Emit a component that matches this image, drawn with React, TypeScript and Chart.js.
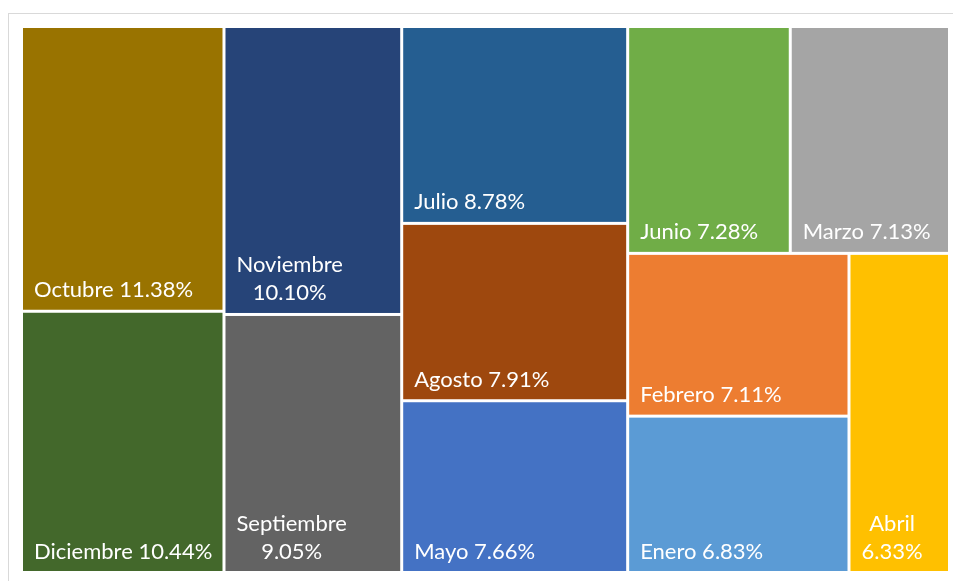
import React, { useEffect, useRef } from "react";
import { Chart, registerables } from "chart.js";

Chart.register(...registerables);

// Data (percent of total), sorted as in the treemap
const categories = [
  "Octubre", "Diciembre", "Noviembre", "Septiembre", "Julio", "Agosto",
  "Mayo", "Junio", "Marzo", "Febrero", "Enero", "Abril",
];
const values = [11.38, 10.44, 10.1, 9.05, 8.78, 7.91, 7.66, 7.28, 7.13, 7.11, 6.83, 6.33];
const colors = [
  "#997300", "#43682B", "#264478", "#636363", "#255E91", "#9E480E",
  "#4472C4", "#70AD47", "#A5A5A5", "#ED7D31", "#5B9BD5", "#FFC000",
];

const LAYOUT_ASPECT = 1.78; // width/height of the layout domain

type Rect = { i: number; x0: number; y0: number; x1: number; y1: number };

function squarify(vals: number[], W: number, H: number): Rect[] {
  const total = vals.reduce((a, b) => a + b, 0);
  const areas = vals.map((v) => (v / total) * W * H);
  const out: Rect[] = [];
  let x = 0, y = 0, w = W, h = H;
  let idx = 0;
  const worst = (row: number[], side: number) => {
    const s = row.reduce((a, b) => a + areas[b], 0);
    const mx = Math.max(...row.map((r) => areas[r]));
    const mn = Math.min(...row.map((r) => areas[r]));
    return Math.max((side * side * mx) / (s * s), (s * s) / (side * side * mn));
  };
  while (idx < areas.length) {
    const side = Math.min(w, h);
    const row: number[] = [idx];
    idx++;
    while (idx < areas.length && worst([...row, idx], side) <= worst(row, side)) {
      row.push(idx);
      idx++;
    }
    const s = row.reduce((a, b) => a + areas[b], 0);
    if (w >= h) {
      const cw = s / h;
      let cy = y;
      for (const r of row) {
        const rh = areas[r] / cw;
        out.push({ i: r, x0: x, y0: cy, x1: x + cw, y1: cy + rh });
        cy += rh;
      }
      x += cw;
      w -= cw;
    } else {
      const rh = s / w;
      let cx = x;
      for (const r of row) {
        const rw = areas[r] / rh;
        out.push({ i: r, x0: cx, y0: y, x1: cx + rw, y1: y + rh });
        cx += rw;
      }
      y += rh;
      h -= rh;
    }
  }
  return out;
}

export default function App() {
  const ref = useRef<HTMLCanvasElement | null>(null);

  useEffect(() => {
    document.body.style.margin = "0";
    const canvas = ref.current;
    if (!canvas) return;
    const rects = squarify(values, LAYOUT_ASPECT, 1);

    const treemapPlugin = {
      id: "treemapCells",
      beforeDraw(chart: any) {
        const ctx = chart.ctx;
        ctx.save();
        ctx.fillStyle = "#ffffff";
        ctx.fillRect(0, 0, chart.width, chart.height);
        ctx.strokeStyle = "#d9d9d9";
        ctx.lineWidth = 1;
        ctx.strokeRect(8.5, 13.5, chart.width + 20, chart.height + 20);
        ctx.restore();
      },
      afterDatasetsDraw(chart: any) {
        const ctx = chart.ctx;
        const xs = chart.scales.x;
        const ys = chart.scales.y;
        const inset = 1.5;
        const pad = 11;
        const lineH = 28;
        ctx.save();
        ctx.font = "22px Lato, 'Noto Sans', sans-serif";
        ctx.textBaseline = "alphabetic";
        for (const r of rects) {
          const px0 = xs.getPixelForValue(r.x0) + inset;
          const px1 = xs.getPixelForValue(r.x1) - inset;
          const py0 = ys.getPixelForValue(r.y0) + inset;
          const py1 = ys.getPixelForValue(r.y1) - inset;
          ctx.fillStyle = colors[r.i];
          ctx.fillRect(px0, py0, px1 - px0, py1 - py0);

          const name = categories[r.i];
          const val = values[r.i].toFixed(2) + "%";
          const full = name + " " + val;
          const cw = px1 - px0;
          let lines = [full];
          if (ctx.measureText(full).width > cw - pad - 4) lines = [name, val];
          const widths = lines.map((l) => ctx.measureText(l).width);
          const bw = Math.max(...widths);
          const cx = px0 + pad + bw / 2;
          ctx.fillStyle = "#ffffff";
          ctx.textAlign = "center";
          const baseBottom = py1 - 12.5;
          lines.forEach((l, k) => {
            const yy = baseBottom - (lines.length - 1 - k) * lineH;
            ctx.fillText(l, cx, yy);
          });
        }
        ctx.restore();
      },
    };

    const chart = new Chart(canvas, {
      type: "scatter",
      data: {
        datasets: [
          {
            label: "Meses",
            data: rects.map((r) => ({ x: (r.x0 + r.x1) / 2, y: (r.y0 + r.y1) / 2 })),
            pointRadius: 0,
            pointHoverRadius: 0,
          },
        ],
      },
      options: {
        responsive: false,
        animation: false,
        layout: { padding: { left: 21.5, top: 26.5, right: 3.5, bottom: 8.5 } },
        plugins: { legend: { display: false }, tooltip: { enabled: false } },
        scales: {
          x: { type: "linear", min: 0, max: LAYOUT_ASPECT, display: false },
          y: { type: "linear", min: 0, max: 1, reverse: true, display: false },
        },
      },
      plugins: [treemapPlugin],
    });
    return () => chart.destroy();
  }, []);

  return (
    <div style={{ position: "fixed", left: 0, top: 0, width: 953, height: 581 }}>
      <canvas ref={ref} width={953} height={581} />
    </div>
  );
}
